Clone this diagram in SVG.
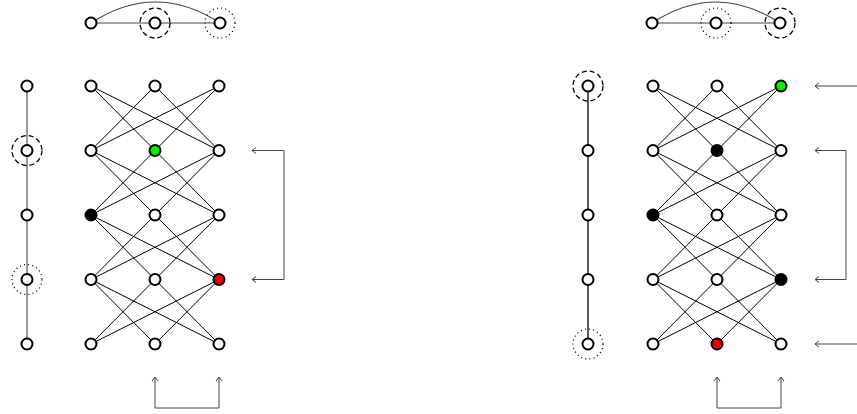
<svg xmlns="http://www.w3.org/2000/svg" width="857" height="414" viewBox="0 0 857 414">
<style>
.n{fill:#fff;stroke:#000;stroke-width:2}
.g{fill:#00ee00}
.r{fill:#ee0000}
.b{fill:#000}
.e{fill:none;stroke:#000;stroke-width:1}
.pg{fill:none;stroke:#777;stroke-width:1.5}
.pt{fill:none;stroke:#444;stroke-width:1.2}
.pb{fill:none;stroke:#000;stroke-width:1.3}
.ds{fill:none;stroke:#000;stroke-width:1.3;stroke-dasharray:5,3}
.dt{fill:none;stroke:#000;stroke-width:1.3;stroke-dasharray:1,3.2}
.a{fill:none;stroke:#444;stroke-width:1;marker-start:url(#ah);marker-end:url(#ah)}
.a1{fill:none;stroke:#444;stroke-width:1;marker-end:url(#ah)}
</style>
<defs>
<marker id="ah" viewBox="-6 -4 7 8" markerWidth="7" markerHeight="8" refX="0" refY="0" orient="auto-start-reverse" markerUnits="userSpaceOnUse">
<path d="M-4,-3 L0,0 L-4,3" fill="none" stroke="#444" stroke-width="1"/>
</marker>
</defs>
<g id="connectors">
<!-- left grid edges -->
<path class="e" d="M91,86L155,150.5M91,86L219,150.5M155,86L91,150.5M155,86L219,150.5M219,86L91,150.5M219,86L155,150.5
M91,150.5L155,215M91,150.5L219,215M155,150.5L91,215M155,150.5L219,215M219,150.5L91,215M219,150.5L155,215
M91,215L155,279.5M91,215L219,279.5M155,215L91,279.5M155,215L219,279.5M219,215L91,279.5M219,215L155,279.5
M91,279.5L155,344M91,279.5L219,344M155,279.5L91,344M155,279.5L219,344M219,279.5L91,344M219,279.5L155,344"/>
<!-- right grid edges -->
<path class="e" d="M653,86L717,150.5M653,86L781,150.5M717,86L653,150.5M717,86L781,150.5M781,86L653,150.5M781,86L717,150.5
M653,150.5L717,215M653,150.5L781,215M717,150.5L653,215M717,150.5L781,215M781,150.5L653,215M781,150.5L717,215
M653,215L717,279.5M653,215L781,279.5M717,215L653,279.5M717,215L781,279.5M781,215L653,279.5M781,215L717,279.5
M653,279.5L717,344M653,279.5L781,344M717,279.5L653,344M717,279.5L781,344M781,279.5L653,344M781,279.5L717,344"/>
<!-- paths -->
<path class="pg" d="M27,86V344"/>
<path class="pb" d="M588,86V344"/>
<path class="pt" d="M91,23H220M91,23Q155.5,-19 220,23"/>
<path class="pt" d="M652,23H780M652,23Q716,-19 780,23"/>
<!-- arrows -->
<path class="a" d="M252,150.5H284V279.5H252"/>
<path class="a" d="M155,377V408H219V377"/>
<path class="a" d="M815,150.5H846V279.5H815"/>
<path class="a1" d="M857,86H815"/>
<path class="a1" d="M857,344H815"/>
<path class="a" d="M717,377V408H781V377"/>
</g>
<g id="left-top-path">
<circle class="ds" cx="155" cy="23" r="15"/>
<circle class="dt" cx="220" cy="23" r="15"/>
<circle class="n" cx="91" cy="23" r="5.5"/>
<circle class="n" cx="155" cy="23" r="5.5"/>
<circle class="n" cx="220" cy="23" r="5.5"/>
</g>
<g id="left-path">
<circle class="ds" cx="27" cy="150.5" r="15"/>
<circle class="dt" cx="27" cy="279.5" r="15"/>
<circle class="n" cx="27" cy="86" r="5.5"/>
<circle class="n" cx="27" cy="150.5" r="5.5"/>
<circle class="n" cx="27" cy="215" r="5.5"/>
<circle class="n" cx="27" cy="279.5" r="5.5"/>
<circle class="n" cx="27" cy="344" r="5.5"/>
</g>
<g id="left-grid">
<circle class="n" cx="91" cy="86" r="5.5"/>
<circle class="n" cx="155" cy="86" r="5.5"/>
<circle class="n" cx="219" cy="86" r="5.5"/>
<circle class="n" cx="91" cy="150.5" r="5.5"/>
<circle class="n g" cx="155" cy="150.5" r="5.5"/>
<circle class="n" cx="219" cy="150.5" r="5.5"/>
<circle class="n b" cx="91" cy="215" r="5.5"/>
<circle class="n" cx="155" cy="215" r="5.5"/>
<circle class="n" cx="219" cy="215" r="5.5"/>
<circle class="n" cx="91" cy="279.5" r="5.5"/>
<circle class="n" cx="155" cy="279.5" r="5.5"/>
<circle class="n r" cx="219" cy="279.5" r="5.5"/>
<circle class="n" cx="91" cy="344" r="5.5"/>
<circle class="n" cx="155" cy="344" r="5.5"/>
<circle class="n" cx="219" cy="344" r="5.5"/>
</g>
<g id="right-top-path">
<circle class="dt" cx="716" cy="23" r="15"/>
<circle class="ds" cx="780" cy="23" r="15"/>
<circle class="n" cx="652" cy="23" r="5.5"/>
<circle class="n" cx="716" cy="23" r="5.5"/>
<circle class="n" cx="780" cy="23" r="5.5"/>
</g>
<g id="right-path">
<circle class="ds" cx="588" cy="86" r="15"/>
<circle class="dt" cx="588" cy="344" r="15"/>
<circle class="n" cx="588" cy="86" r="5.5"/>
<circle class="n" cx="588" cy="150.5" r="5.5"/>
<circle class="n" cx="588" cy="215" r="5.5"/>
<circle class="n" cx="588" cy="279.5" r="5.5"/>
<circle class="n" cx="588" cy="344" r="5.5"/>
</g>
<g id="right-grid">
<circle class="n" cx="653" cy="86" r="5.5"/>
<circle class="n" cx="717" cy="86" r="5.5"/>
<circle class="n g" cx="781" cy="86" r="5.5"/>
<circle class="n" cx="653" cy="150.5" r="5.5"/>
<circle class="n b" cx="717" cy="150.5" r="5.5"/>
<circle class="n" cx="781" cy="150.5" r="5.5"/>
<circle class="n b" cx="653" cy="215" r="5.5"/>
<circle class="n" cx="717" cy="215" r="5.5"/>
<circle class="n" cx="781" cy="215" r="5.5"/>
<circle class="n" cx="653" cy="279.5" r="5.5"/>
<circle class="n" cx="717" cy="279.5" r="5.5"/>
<circle class="n b" cx="781" cy="279.5" r="5.5"/>
<circle class="n" cx="653" cy="344" r="5.5"/>
<circle class="n r" cx="717" cy="344" r="5.5"/>
<circle class="n" cx="781" cy="344" r="5.5"/>
</g>
</svg>
